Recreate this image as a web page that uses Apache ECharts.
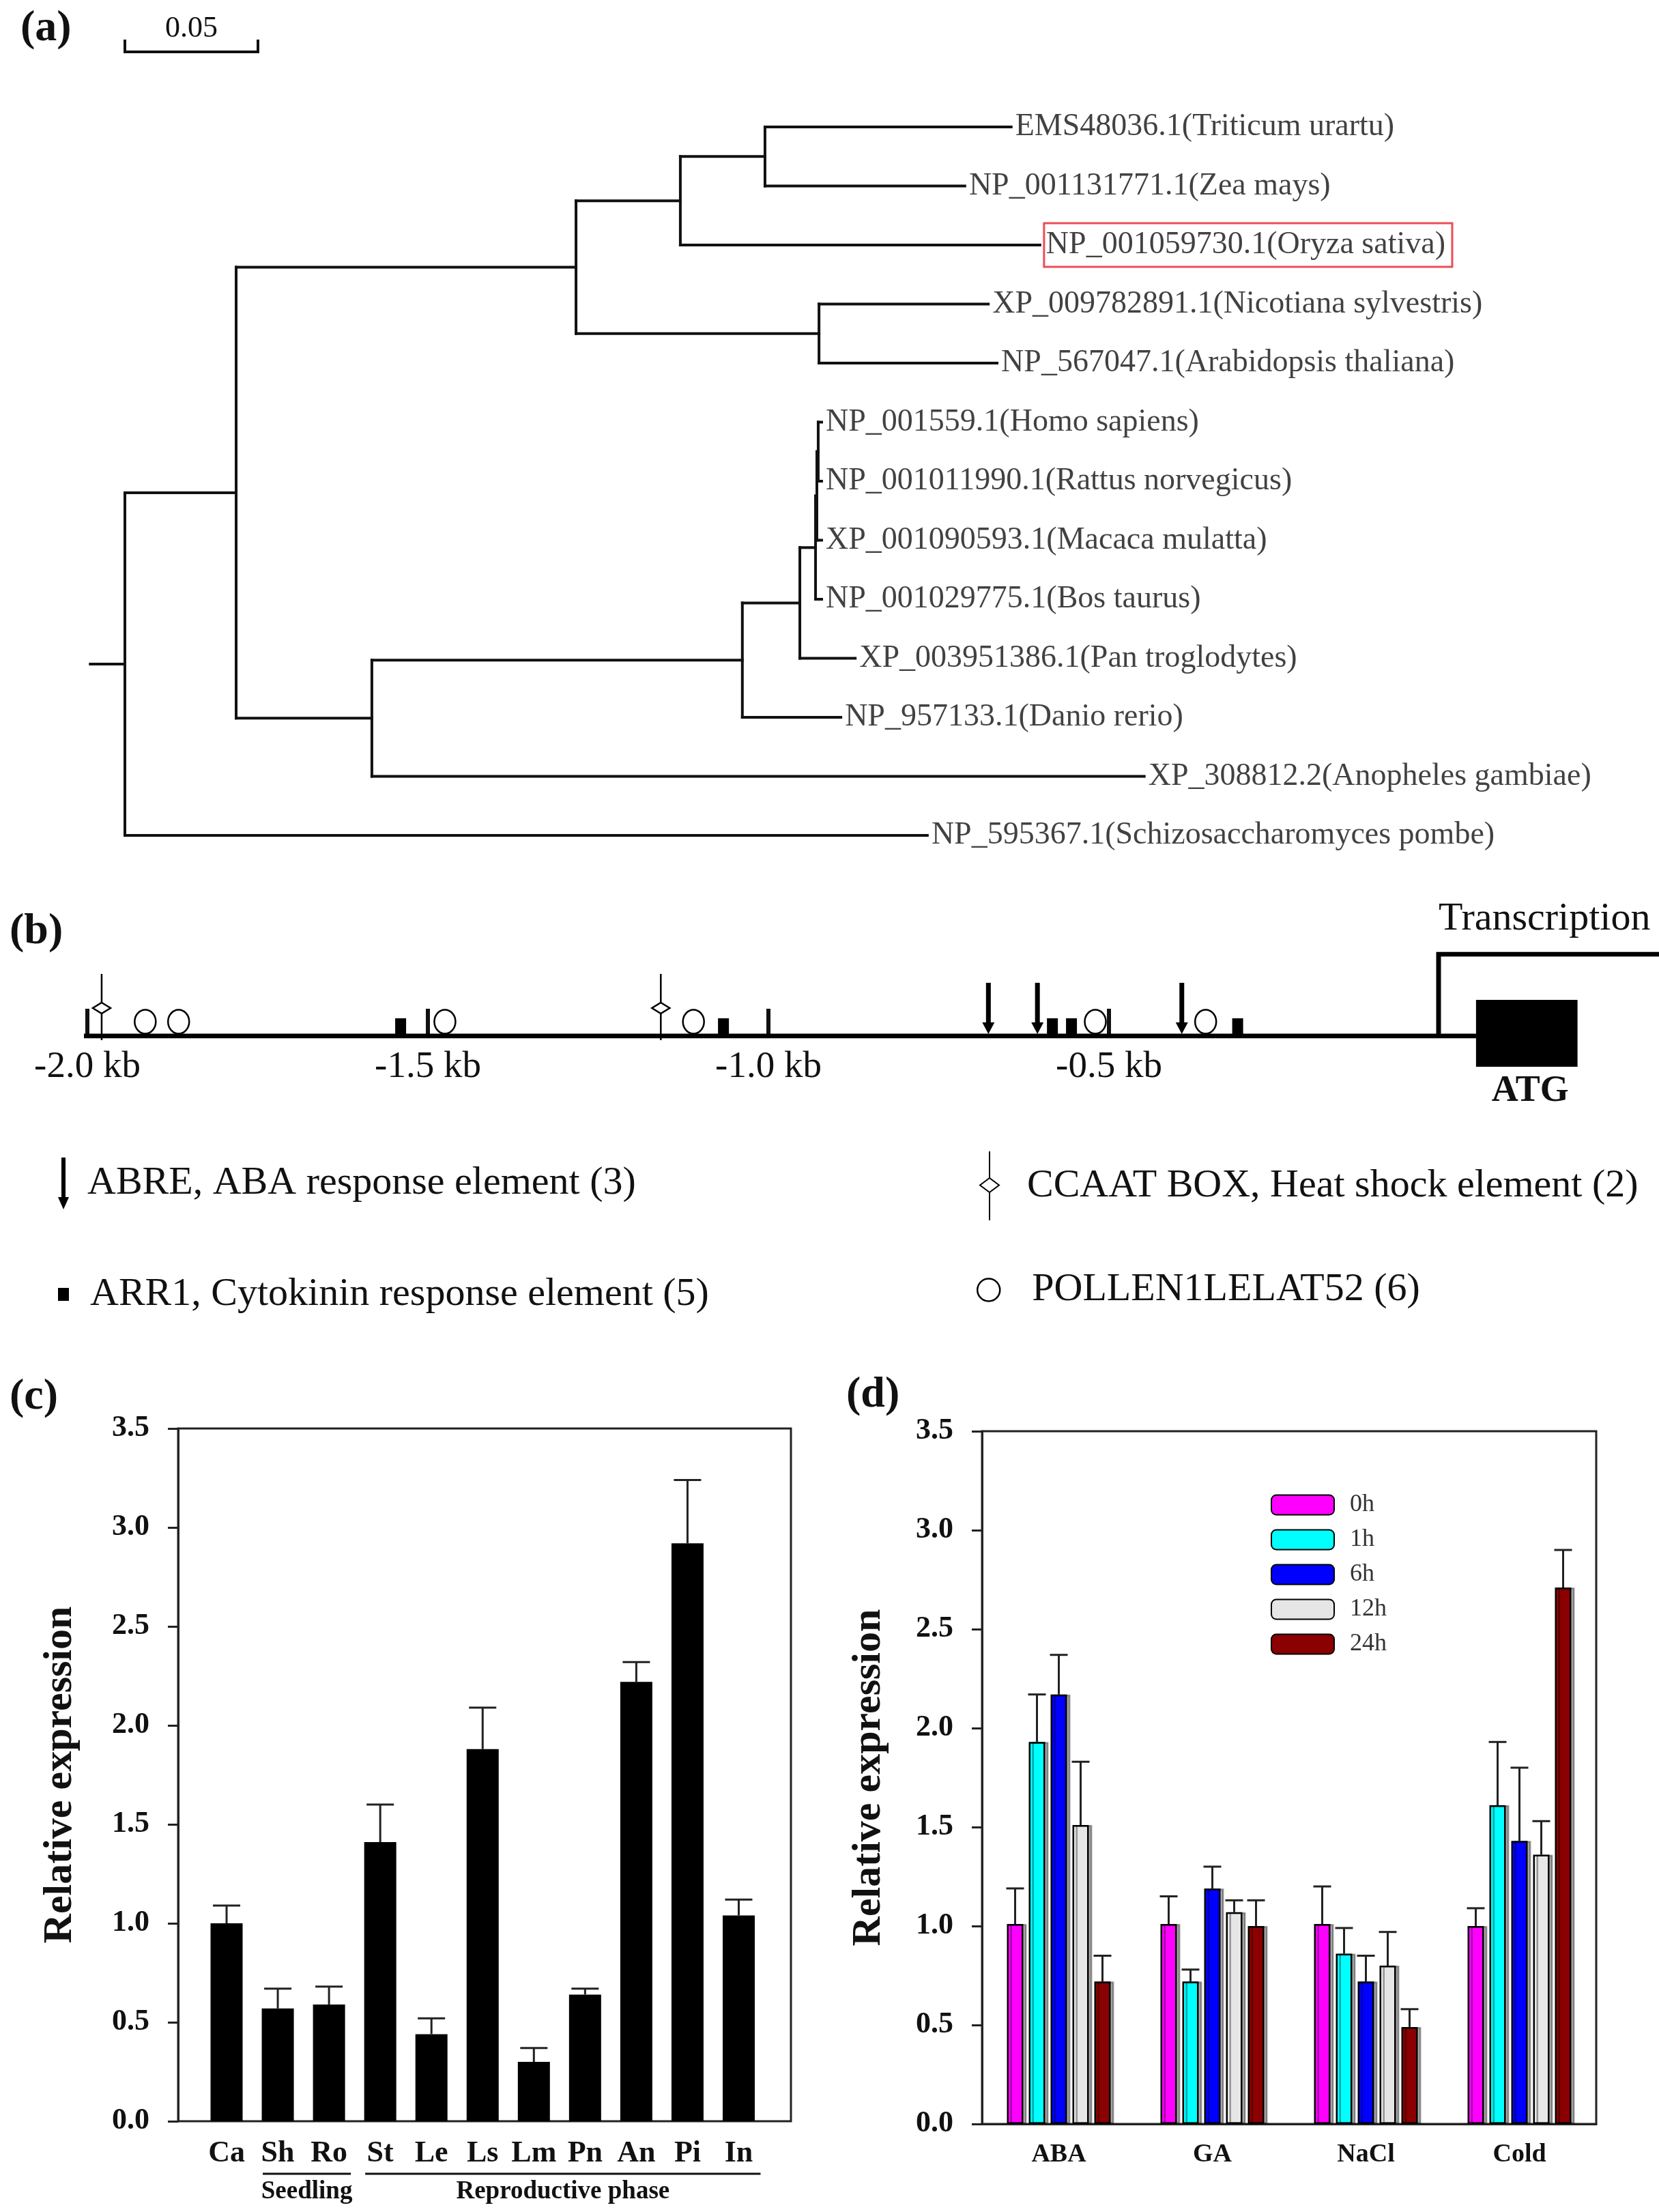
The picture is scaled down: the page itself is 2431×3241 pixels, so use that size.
<!DOCTYPE html>
<html>
<head>
<meta charset="utf-8">
<script src="https://cdn.jsdelivr.net/npm/echarts@6/dist/echarts.min.js"></script>
<style>
  html, body { margin: 0; padding: 0; background: #fff; }
  #chart { width: 2431px; height: 3241px; }
</style>
</head>
<body>
<div id="chart"></div>
<script>
const serif = 'Liberation Serif';

// ---------- (a) tree ----------
const leafNames = [
  'EMS48036.1(Triticum urartu)',
  'NP_001131771.1(Zea mays)',
  'NP_001059730.1(Oryza sativa)',
  'XP_009782891.1(Nicotiana sylvestris)',
  'NP_567047.1(Arabidopsis thaliana)',
  'NP_001559.1(Homo sapiens)',
  'NP_001011990.1(Rattus norvegicus)',
  'XP_001090593.1(Macaca mulatta)',
  'NP_001029775.1(Bos taurus)',
  'XP_003951386.1(Pan troglodytes)',
  'NP_957133.1(Danio rerio)',
  'XP_308812.2(Anopheles gambiae)',
  'NP_595367.1(Schizosaccharomyces pombe)'
];
const highlightLeaf = 2;
// node = [branch length, [children]] or [branch length, leaf index]
const tree = [0.013, [
  [0.0418, [
    [0.1277, [
      [0.0392, [
        [0.0318, [[0.0925, 0], [0.0751, 1]]],
        [0.1351, 2]
      ]],
      [0.0913, [[0.0636, 3], [0.0669, 4]]]
    ]],
    [0.051, [
      [0.1392, [
        [0.0216, [
          [0.0059, [
            [0.0005, [
              [0.0005, [[0.0013, 5], [0.0013, 6]]],
              [0.0018, 7]
            ]],
            [0.0023, 8]
          ]],
          [0.0208, 9]
        ]],
        [0.037, 10]
      ]],
      [0.2902, 11]
    ]]
  ]],
  [0.3015, 12]
]];
const scaleBar = 0.05;

// ---------- (b) promoter ----------
const kbTicks = [-2.0, -1.5, -1.0, -0.5];
const abrePos = [-0.677, -0.605, -0.393];
const ccaatPos = [-1.979, -1.158];
const arr1Pos = [-1.540, -1.066, -0.583, -0.555, -0.311];
const pollenPos = [-1.915, -1.866, -1.475, -1.110, -0.520, -0.358];
const promoterStart = -2.005;
const atgStart = 0.039;
const atgEnd = 0.188;
const tssPos = -0.016;
const abreName = 'ABRE, ABA response element (3)';
const arr1Name = 'ARR1, Cytokinin response element (5)';
const ccaatName = 'CCAAT BOX, Heat shock element (2)';
const pollenName = 'POLLEN1LELAT52 (6)';

// ---------- (c) tissues ----------
const cCategories = ['Ca', 'Sh', 'Ro', 'St', 'Le', 'Ls', 'Lm', 'Pn', 'An', 'Pi', 'In'];
const cValues = [1.00, 0.57, 0.59, 1.41, 0.44, 1.88, 0.30, 0.64, 2.22, 2.92, 1.04];
const cErrors = [0.09, 0.10, 0.09, 0.19, 0.08, 0.21, 0.07, 0.03, 0.10, 0.32, 0.08];
const cGroups = ['Seedling', 'Reproductive phase'];
const cGroupFrom = [1, 3];
const cGroupTo = [2, 10];

// ---------- (d) treatments ----------
const dCategories = ['ABA', 'GA', 'NaCl', 'Cold'];
const dTimes = ['0h', '1h', '6h', '12h', '24h'];
const d0h = [1.01, 1.01, 1.01, 1.00];
const d1h = [1.93, 0.72, 0.86, 1.61];
const d6h = [2.17, 1.19, 0.72, 1.43];
const d12h = [1.51, 1.07, 0.80, 1.36];
const d24h = [0.72, 1.00, 0.49, 2.71];
const e0h = [0.18, 0.14, 0.19, 0.09];
const e1h = [0.24, 0.06, 0.13, 0.32];
const e6h = [0.20, 0.11, 0.13, 0.37];
const e12h = [0.32, 0.06, 0.17, 0.17];
const e24h = [0.13, 0.13, 0.09, 0.19];
const dMeans = [d0h, d1h, d6h, d12h, d24h];
const dErrs = [e0h, e1h, e6h, e12h, e24h];
const dColors = ['#ff00ff', '#00ffff', '#0000ff', '#e6e6e6', '#8b0000'];
const dBarWidth = 24;
const dBarGap = 8;

// tree layout: x = cumulative branch length, y = leaf index (midpoint for nodes)
const segments = [];
const leafEnds = [];
function layout(node, parentX) {
  const x = parentX + node[0];
  let y;
  if (typeof node[1] === 'number') {
    y = node[1];
    leafEnds[y] = [x, y];
  } else {
    const ys = node[1].map(c => layout(c, x));
    y = (ys[0] + ys[ys.length - 1]) / 2;
    segments.push([x, ys[0], x, ys[ys.length - 1]]);
  }
  segments.push([parentX, y, x, y]);
  return y;
}
layout(tree, -tree[0]);

const ink = '#111';
const axisInk = '#222';

function markSeries(name, positions, draw) {
  return {
    type: 'custom', name, xAxisIndex: 1, yAxisIndex: 1, z: 5, silent: true,
    itemStyle: { color: '#000' },
    data: positions.map(p => [p, 0]),
    renderItem: (params, api) => draw(api.coord([api.value(0), 0]))
  };
}

const chart = echarts.init(document.getElementById('chart'));

const valueYAxis = (gridIndex, extra) => Object.assign({
  gridIndex, type: 'value', min: 0, max: 3.5, interval: 0.5,
  axisLine: { show: true, lineStyle: { color: axisInk, width: 3 } },
  axisTick: { show: true, inside: false, length: 15, lineStyle: { color: axisInk, width: 3 } },
  splitLine: { show: false },
  axisLabel: { formatter: v => v.toFixed(1), fontSize: 44, fontWeight: 'bold', color: ink, margin: 42, fontFamily: serif },
  name: 'Relative expression', nameLocation: 'middle', nameRotate: 90,
  nameTextStyle: { fontSize: 60, fontWeight: 'bold', color: ink, fontFamily: serif }
}, extra);

const legendBase = {
  orient: 'vertical', padding: 0, selectedMode: false,
  textStyle: { fontSize: 58, lineHeight: 64, color: ink, fontFamily: serif }
};

const option = {
  animation: false,
  backgroundColor: '#fff',
  textStyle: { fontFamily: serif },
  title: [
    { text: '(a)', left: 30, top: 10 },
    { text: '(b)', left: 14, top: 1333 },
    { text: '(c)', left: 14, top: 2015 },
    { text: '(d)', left: 1240, top: 2012 }
  ].map(t => Object.assign(t, {
    padding: 0,
    textStyle: { fontSize: 64, fontWeight: 'bold', color: ink, fontFamily: serif }
  })),
  grid: [
    { left: 27, width: 2106, top: 13, height: 1211, outerBoundsMode: 'none' },
    { left: 78.1, width: 2375.2, top: 1398, height: 120, outerBoundsMode: 'none' },
    // (c) frame carries the value axis, (c) data grid holds the category bands
    { left: 261, width: 898, top: 2093, height: 1015, show: true, borderColor: axisInk, borderWidth: 3, backgroundColor: 'transparent', outerBoundsMode: 'none' },
    { left: 294.5, width: 825.5, top: 2093, height: 1015, outerBoundsMode: 'none' },
    { left: 1439, width: 900, top: 2097, height: 1015, show: true, borderColor: axisInk, borderWidth: 3, backgroundColor: 'transparent', outerBoundsMode: 'none' }
  ],
  xAxis: [
    { gridIndex: 0, type: 'value', min: -0.04, max: 0.5, show: false },
    {
      gridIndex: 1, type: 'value', min: -2.05, max: 0.33,
      axisLine: { show: false }, splitLine: { show: false },
      axisTick: { show: true, inside: true, length: 40, customValues: kbTicks, lineStyle: { width: 6, color: ink } },
      axisLabel: { customValues: kbTicks, formatter: v => v.toFixed(1) + ' kb', fontSize: 55, color: ink, margin: 18, fontFamily: serif }
    },
    { gridIndex: 2, type: 'value', min: 0, max: 1, show: false },
    {
      gridIndex: 3, type: 'category', data: cCategories,
      axisLine: { show: false }, axisTick: { show: false },
      axisLabel: { interval: 0, fontSize: 44, fontWeight: 'bold', color: ink, margin: 26, fontFamily: serif }
    },
    {
      gridIndex: 4, type: 'category', data: dCategories,
      axisLine: { show: true, lineStyle: { color: axisInk, width: 3 } }, axisTick: { show: false },
      axisLabel: { interval: 0, fontSize: 38, fontWeight: 'bold', color: ink, margin: 26, fontFamily: serif }
    }
  ],
  yAxis: [
    { gridIndex: 0, type: 'value', min: -2, max: 12, inverse: true, show: false },
    { gridIndex: 1, type: 'value', min: 0, max: 120, show: false },
    valueYAxis(2, { nameGap: 143 }),
    { gridIndex: 3, type: 'value', min: 0, max: 3.5, show: false },
    valueYAxis(4, { nameGap: 136 })
  ],
  legend: [
    Object.assign({}, legendBase, {
      left: 85, top: 1690, itemWidth: 60, itemHeight: 76,
      textStyle: Object.assign({}, legendBase.textStyle, { padding: [24, 0, 0, 0] }),
      data: [{ name: abreName, icon: 'path://M5,0H11V58H16L8,76L0,58H5Z', itemStyle: { color: '#000', borderWidth: 0 } }]
    }),
    Object.assign({}, legendBase, {
      left: 85, top: 1864.5, itemWidth: 68, itemHeight: 19,
      data: [{ name: arr1Name, icon: 'path://M0,0H16V19H0Z', itemStyle: { color: '#000', borderWidth: 0 } }]
    }),
    Object.assign({}, legendBase, {
      left: 1435, top: 1686, itemWidth: 100, itemHeight: 101,
      data: [{ name: ccaatName, icon: 'path://M14,0L14,39M14,39L0,49.5L14,60L28,49.5ZM14,60L14,101', itemStyle: { color: '#fff', borderColor: '#000', borderWidth: 2 } }]
    }),
    Object.assign({}, legendBase, {
      left: 1431, top: 1858, itemWidth: 117, itemHeight: 33,
      data: [{ name: pollenName, icon: 'circle', itemStyle: { color: '#fff', borderColor: '#000', borderWidth: 2.5 } }]
    }),
    {
      orient: 'vertical', left: 1862, top: 2187, padding: 0, selectedMode: false,
      itemWidth: 92, itemHeight: 29, itemGap: 15, icon: 'roundRect',
      data: dTimes,
      itemStyle: { shadowBlur: 0, shadowOffsetX: 0, shadowColor: 'rgba(0,0,0,0)' },
      textStyle: { fontSize: 36, lineHeight: 36, color: '#333', fontFamily: serif, padding: [0, 0, 0, 18] }
    }
  ],
  series: [
    // (a) branches
    {
      type: 'custom', xAxisIndex: 0, yAxisIndex: 0, silent: true,
      encode: { x: [0, 2], y: [1, 3] },
      data: segments,
      renderItem: (params, api) => {
        const a = api.coord([api.value(0), api.value(1)]);
        const b = api.coord([api.value(2), api.value(3)]);
        return {
          type: 'line',
          shape: { x1: a[0], y1: a[1], x2: b[0], y2: b[1] },
          style: { stroke: ink, lineWidth: 4, lineCap: 'square' }
        };
      }
    },
    // (a) leaf labels
    {
      type: 'scatter', xAxisIndex: 0, yAxisIndex: 0, silent: true,
      symbolSize: 0.1, itemStyle: { color: 'rgba(0,0,0,0)' },
      data: leafEnds.map((p, i) => i === highlightLeaf
        ? { value: p, label: { borderColor: '#e8202a', borderWidth: 3, padding: [10, 10, 8, 3] } }
        : { value: p }),
      label: {
        show: true, position: 'right', distance: 6,
        formatter: p => leafNames[p.dataIndex],
        fontSize: 46, color: ink, fontFamily: serif
      }
    },
    // (a) scale bar
    {
      type: 'custom', xAxisIndex: 0, yAxisIndex: 0, silent: true,
      data: [[0, -1.272]],
      renderItem: (params, api) => {
        const a = api.coord([api.value(0), api.value(1)]);
        const b = api.coord([api.value(0) + scaleBar, api.value(1)]);
        return {
          type: 'group', children: [
            { type: 'polyline', shape: { points: [[a[0], a[1] - 18], a, b, [b[0], b[1] - 18]] },
              style: { stroke: ink, lineWidth: 4, fill: 'none' } },
            { type: 'text', style: { text: scaleBar.toFixed(2), x: (a[0] + b[0]) / 2, y: a[1] - 34,
              align: 'center', verticalAlign: 'middle', font: '44px "Liberation Serif"', fill: ink } }
          ]
        };
      }
    },
    // (b) promoter line
    {
      type: 'line', xAxisIndex: 1, yAxisIndex: 1, silent: true, symbol: 'none', z: 3,
      data: [[promoterStart, 0], [atgStart, 0]],
      lineStyle: { color: '#000', width: 7 }
    },
    // (b) transcription start
    {
      type: 'line', xAxisIndex: 1, yAxisIndex: 1, silent: true, symbol: 'circle', symbolSize: 0.1, z: 3,
      itemStyle: { color: '#000' },
      data: [
        [tssPos, 0],
        { value: [tssPos, 120], label: { show: true, position: 'top', align: 'left', distance: 22, formatter: 'Transcription', fontSize: 58, color: ink, fontFamily: serif } },
        [0.33, 120]
      ],
      lineStyle: { color: '#000', width: 7, join: 'miter' }
    },
    // (b) ATG box
    {
      type: 'custom', xAxisIndex: 1, yAxisIndex: 1, silent: true, z: 4,
      data: [[atgStart, atgEnd]],
      renderItem: (params, api) => {
        const a = api.coord([api.value(0), 0]);
        const b = api.coord([api.value(1), 0]);
        return {
          type: 'group', children: [
            { type: 'rect', shape: { x: a[0], y: a[1] - 53, width: b[0] - a[0], height: 98 }, style: { fill: '#000' } },
            { type: 'text', style: { text: 'ATG', x: (a[0] + b[0]) / 2 + 5, y: a[1] + 81, align: 'center', verticalAlign: 'middle',
              font: 'bold 54px "Liberation Serif"', fill: ink } }
          ]
        };
      }
    },
    markSeries(abreName, abrePos, p => ({
      type: 'polygon',
      shape: { points: [[p[0] - 3.5, p[1] - 78], [p[0] + 3.5, p[1] - 78], [p[0] + 3.5, p[1] - 20], [p[0] + 9, p[1] - 20],
        [p[0], p[1] - 3], [p[0] - 9, p[1] - 20], [p[0] - 3.5, p[1] - 20]] },
      style: { fill: '#000' }
    })),
    markSeries(ccaatName, ccaatPos, p => ({
      type: 'group', children: [
        { type: 'line', shape: { x1: p[0], y1: p[1] - 91, x2: p[0], y2: p[1] + 6 }, style: { stroke: '#000', lineWidth: 2.5 } },
        { type: 'polygon', shape: { points: [[p[0], p[1] - 49], [p[0] + 13, p[1] - 41], [p[0], p[1] - 33], [p[0] - 13, p[1] - 41]] },
          style: { fill: '#fff', stroke: '#000', lineWidth: 2.5 } }
      ]
    })),
    markSeries(arr1Name, arr1Pos, p => ({
      type: 'rect', shape: { x: p[0] - 8, y: p[1] - 26, width: 16, height: 23 }, style: { fill: '#000' }
    })),
    markSeries(pollenName, pollenPos, p => ({
      type: 'ellipse', shape: { cx: p[0], cy: p[1] - 21, rx: 15.5, ry: 17.5 },
      style: { fill: '#fff', stroke: '#000', lineWidth: 2.5 }
    })),
    // (c) bars
    {
      type: 'bar', xAxisIndex: 3, yAxisIndex: 3, silent: true, barWidth: 47, z: 2,
      data: cValues, itemStyle: { color: '#000' }
    },
    // (c) error bars
    {
      type: 'custom', xAxisIndex: 3, yAxisIndex: 3, silent: true, z: 3,
      data: cValues.map((v, i) => [i, v, cErrors[i]]),
      renderItem: (params, api) => {
        const p0 = api.coord([api.value(0), api.value(1)]);
        const p1 = api.coord([api.value(0), api.value(1) + api.value(2)]);
        return {
          type: 'group', children: [
            { type: 'line', shape: { x1: p0[0], y1: p0[1], x2: p1[0], y2: p1[1] }, style: { stroke: axisInk, lineWidth: 3 } },
            { type: 'line', shape: { x1: p1[0] - 20, y1: p1[1], x2: p1[0] + 20, y2: p1[1] }, style: { stroke: axisInk, lineWidth: 3 } }
          ]
        };
      }
    },
    // (c) tissue groups
    {
      type: 'custom', xAxisIndex: 3, yAxisIndex: 3, silent: true,
      data: cGroups.map((g, i) => [cGroupFrom[i], cGroupTo[i]]),
      renderItem: (params, api) => {
        const a = api.coord([api.value(0), 0]);
        const b = api.coord([api.value(1), 0]);
        return {
          type: 'group', children: [
            { type: 'line', shape: { x1: a[0] - 22, y1: a[1] + 77, x2: b[0] + 32, y2: b[1] + 77 }, style: { stroke: ink, lineWidth: 3 } },
            { type: 'text', style: { text: cGroups[params.dataIndex], x: (a[0] - 22 + b[0] + 32) / 2, y: a[1] + 103,
              align: 'center', verticalAlign: 'middle', font: 'bold 37px "Liberation Serif"', fill: ink } }
          ]
        };
      }
    },
    // (d) bars
    ...dTimes.map((t, k) => ({
      type: 'bar', name: t, xAxisIndex: 4, yAxisIndex: 4, silent: true, z: 2,
      barWidth: dBarWidth, barGap: (dBarGap / dBarWidth * 100) + '%',
      data: dMeans[k],
      itemStyle: { color: dColors[k], borderColor: '#000', borderWidth: 2.5,
        shadowColor: 'rgba(0,0,0,0.35)', shadowOffsetX: 5, shadowBlur: 0 }
    })),
    // (d) error bars
    {
      type: 'custom', xAxisIndex: 4, yAxisIndex: 4, silent: true, z: 3,
      data: dCategories.flatMap((c, i) => dTimes.map((t, k) => [i, dMeans[k][i], dErrs[k][i], k])),
      renderItem: (params, api) => {
        const off = (api.value(3) - (dTimes.length - 1) / 2) * (dBarWidth + dBarGap);
        const p0 = api.coord([api.value(0), api.value(1)]);
        const p1 = api.coord([api.value(0), api.value(1) + api.value(2)]);
        const x = p0[0] + off;
        return {
          type: 'group', children: [
            { type: 'line', shape: { x1: x, y1: p0[1], x2: x, y2: p1[1] }, style: { stroke: axisInk, lineWidth: 3 } },
            { type: 'line', shape: { x1: x - 13, y1: p1[1], x2: x + 13, y2: p1[1] }, style: { stroke: axisInk, lineWidth: 3 } }
          ]
        };
      }
    }
  ]
};

chart.setOption(option);
</script>
</body>
</html>
